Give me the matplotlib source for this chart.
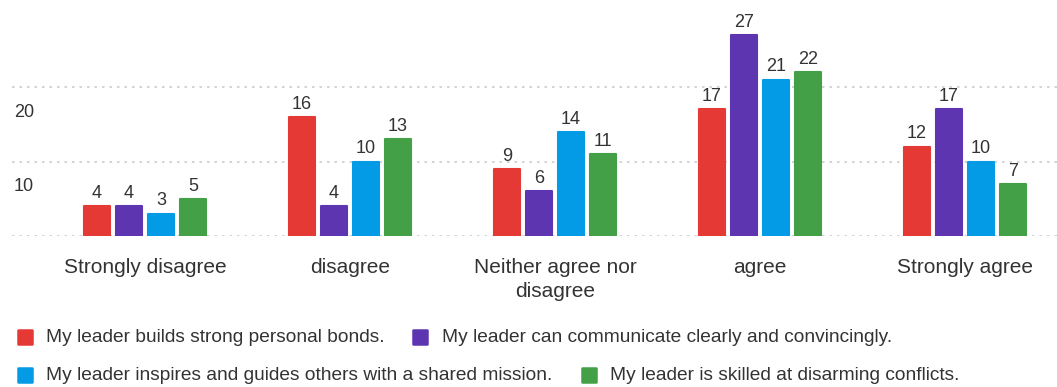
import matplotlib.pyplot as plt
from matplotlib.lines import Line2D
from matplotlib.markers import MarkerStyle
from matplotlib.transforms import blended_transform_factory
import numpy as np

plt.rcParams['font.family'] = ['Liberation Sans', 'DejaVu Sans']

categories = ['Strongly disagree', 'disagree', 'Neither agree nor\ndisagree',
              'agree', 'Strongly agree']
series_names = ['My leader builds strong personal bonds.',
                'My leader can communicate clearly and convincingly.',
                'My leader inspires and guides others with a shared mission.',
                'My leader is skilled at disarming conflicts.']
bonds = [4, 16, 9, 17, 12]
communicate = [4, 4, 6, 27, 17]
inspires = [3, 10, 14, 21, 10]
conflicts = [5, 13, 11, 22, 7]
yticks = [0, 10, 20]

colors = ['#e53935', '#5e35b1', '#039be5', '#43a047']
text_color = '#333333'

W, H = 1057, 387
fig = plt.figure(figsize=(W / 100, H / 100), dpi=100)
ax = fig.add_axes([12 / W, 1 - 236 / H, 1045 / W, (236 - 12.5) / H])

x = np.arange(len(categories))
pitch = 0.156
width = 0.127
for i, (vals, c) in enumerate(zip([bonds, communicate, inspires, conflicts], colors)):
    bars = ax.bar(x + (i - 1.5) * pitch, vals, width, color=c, edgecolor=c,
                  linewidth=1.5, joinstyle='round', zorder=3)
    ax.bar_label(bars, padding=3, fontsize=13, color=text_color)

ax.set_xlim(-0.649, 4.449)
ax.set_ylim(0, 30)
ax.set_yticks(yticks)
ax.set_yticklabels([])
ax.grid(axis='y', color='#cccccc', linestyle=(0, (1.5, 3)), linewidth=1.2, zorder=0)
ax.set_xticks(x)
ax.set_xticklabels(categories, fontsize=15, color=text_color, linespacing=1.3)
ax.tick_params(axis='both', length=0)
ax.tick_params(axis='x', pad=16)
for s in ax.spines.values():
    s.set_visible(False)

trans = blended_transform_factory(ax.transAxes, ax.transData)
for t in yticks[1:]:
    ax.annotate(str(t), xy=(0.002, t), xycoords=trans, xytext=(0, -21.5),
                textcoords='offset points', va='baseline', ha='left',
                fontsize=13, color=text_color)

# legend laid out like the original two wrapped rows: marker x, y, text x
legend_pos = [(25, 337, 46), (420, 337, 442), (25, 375, 46), (589, 375, 610)]
box = MarkerStyle('s', joinstyle='round')
for (mx, my, tx), name, c in zip(legend_pos, series_names, colors):
    fig.add_artist(Line2D([mx / W], [1 - my / H], marker=box, markersize=9.5,
                          color=c, markeredgewidth=1.8, markeredgecolor=c,
                          transform=fig.transFigure))
    fig.text(tx / W, 1 - (my + 1) / H, name, va='center', ha='left',
             fontsize=13.8, color=text_color)

fig.savefig('out.png', dpi=100)
